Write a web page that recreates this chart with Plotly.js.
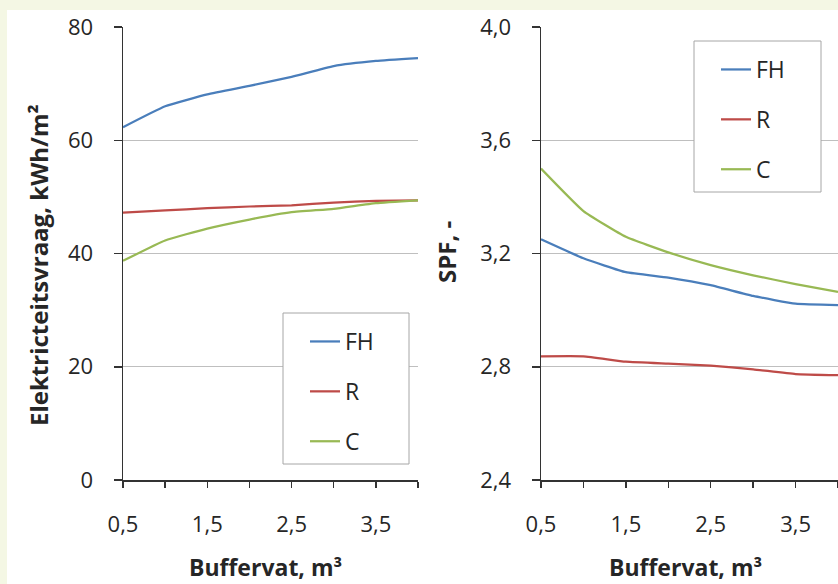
<!DOCTYPE html>
<html>
<head>
<meta charset="utf-8">
<script src="https://cdn.plot.ly/plotly-3.0.1.min.js"></script>
<style>
html,body{margin:0;padding:0;background:#f4f7e4;}
#chart{width:838px;height:584px;}
</style>
</head>
<body>
<div id="chart"></div>
<script>
// Buffer volume, m³
var bufferVolume = [0.5, 1, 1.5, 2, 2.5, 3, 3.5, 4];
var seriesNames = ["FH", "R", "C"];

// Electricity demand, kWh/m²
var elecFH = [62.3, 66.0, 68.1, 69.6, 71.2, 73.1, 74.0, 74.5];
var elecR  = [47.2, 47.6, 48.0, 48.3, 48.5, 49.0, 49.3, 49.4];
var elecC  = [38.7, 42.3, 44.4, 46.0, 47.3, 47.9, 48.9, 49.4];

// SPF, -
var spfFH = [3.25, 3.183, 3.134, 3.115, 3.088, 3.05, 3.023, 3.018];
var spfR  = [2.837, 2.837, 2.818, 2.811, 2.804, 2.791, 2.774, 2.770];
var spfC  = [3.50, 3.350, 3.259, 3.204, 3.159, 3.123, 3.092, 3.064];

var xTickVals = [0.5, 1.5, 2.5, 3.5];
var xTickText = ["0,5", "1,5", "2,5", "3,5"];

var colors = {FH: "#4a7ebb", R: "#be4b48", C: "#98b954"};
var W = 838, H = 584;
function px(x){ return x / W; }
function py(y){ return 1 - y / H; }

var FONT = "Open Sans, sans-serif";
var TXT = "#262626";

function mk(name, y, xa, ya, leg){
  return {
    x: bufferVolume, y: y, name: name, type: "scatter", mode: "lines",
    xaxis: xa, yaxis: ya, legend: leg, legendgroup: leg + name,
    line: {color: colors[name], width: 2.25, shape: "spline", smoothing: 0.4},
    hoverinfo: "x+y+name"
  };
}

var data = [
  mk("FH", elecFH, "x", "y", "legend"),
  mk("R", elecR, "x", "y", "legend"),
  mk("C", elecC, "x", "y", "legend"),
  mk("FH", spfFH, "x2", "y2", "legend2"),
  mk("R", spfR, "x2", "y2", "legend2"),
  mk("C", spfC, "x2", "y2", "legend2")
];

function xAxis(domain, anchor){
  return {
    domain: domain, anchor: anchor, range: [0.5, 4], type: "linear",
    tickmode: "array", tickvals: xTickVals, ticktext: xTickText,
    ticks: "outside", ticklen: 6, tickwidth: 1.5, tickcolor: "#333",
    minor: {tickmode: "linear", tick0: 0.5, dtick: 0.5, ticks: "outside", ticklen: 6, tickwidth: 1.5, tickcolor: "#333", showgrid: false},
    showline: true, linecolor: "#333", linewidth: 1.5,
    showgrid: false, zeroline: false,
    ticklabelstandoff: 18,
    tickfont: {family: FONT, size: 22, color: TXT}
  };
}
function yAxis(domain, anchor, range, dtick, fmt){
  return {
    domain: domain, anchor: anchor, range: range, dtick: dtick, tick0: range[0],
    tickformat: fmt,
    ticks: "outside", ticklen: 8, tickwidth: 1.5, tickcolor: "#333",
    showline: true, linecolor: "#333", linewidth: 1.5,
    showgrid: true, gridcolor: "#bfbfbf", gridwidth: 1, zeroline: false,
    ticklabelstandoff: 16,
    tickfont: {family: FONT, size: 22, color: TXT}
  };
}

var yDom = [py(480), py(27)];

var legendBase = {
  bgcolor: "rgba(0,0,0,0)", borderwidth: 0,
  font: {family: FONT, size: 23, color: TXT},
  xanchor: "left", yanchor: "top", tracegroupgap: 17,
  itemwidth: 30, traceorder: "grouped"
};

var layout = {
  width: W, height: H,
  margin: {l: 0, r: 0, t: 0, b: 0},
  paper_bgcolor: "#f4f7e4",
  plot_bgcolor: "#ffffff",
  separators: ",.",
  showlegend: true,
  xaxis: xAxis([px(123), px(418)], "y"),
  yaxis: yAxis(yDom, "x", [0, 80], 20, "d"),
  xaxis2: xAxis([px(541), 1], "y2"),
  yaxis2: yAxis(yDom, "x2", [2.4, 4.0], 0.4, ".1f"),
  legend: Object.assign({}, legendBase, {x: px(305), y: py(320)}),
  legend2: Object.assign({}, legendBase, {x: px(716), y: py(48)}),
  shapes: [
    {type: "rect", xref: "paper", yref: "paper", x0: px(7), x1: 1, y0: 0, y1: py(10),
     fillcolor: "#ffffff", line: {width: 0}, layer: "below"},
    {type: "rect", xref: "paper", yref: "paper", x0: px(283), x1: px(409), y0: py(464), y1: py(313),
     fillcolor: "#ffffff", line: {color: "#a6a6a6", width: 1}, layer: "above"},
    {type: "rect", xref: "paper", yref: "paper", x0: px(694), x1: px(821), y0: py(192), y1: py(41),
     fillcolor: "#ffffff", line: {color: "#a6a6a6", width: 1}, layer: "above"}
  ],
  annotations: [
    {text: "<b>Elektricteitsvraag, kWh/m²</b>", xref: "paper", yref: "paper",
     x: px(38), y: py(265), textangle: -90, showarrow: false,
     xanchor: "center", yanchor: "middle", font: {family: FONT, size: 24, color: TXT}},
    {text: "<b>SPF, -</b>", xref: "paper", yref: "paper",
     x: px(447), y: py(252), textangle: -90, showarrow: false,
     xanchor: "center", yanchor: "middle", font: {family: FONT, size: 24, color: TXT}},
    {text: "<b>Buffervat, m³</b>", xref: "paper", yref: "paper",
     x: px(265), y: py(567), showarrow: false,
     xanchor: "center", yanchor: "middle", font: {family: FONT, size: 23, color: TXT}},
    {text: "<b>Buffervat, m³</b>", xref: "paper", yref: "paper",
     x: px(685), y: py(567), showarrow: false,
     xanchor: "center", yanchor: "middle", font: {family: FONT, size: 23, color: TXT}}
  ]
};

Plotly.newPlot("chart", data, layout, {displayModeBar: false, staticPlot: true});
</script>
</body>
</html>
